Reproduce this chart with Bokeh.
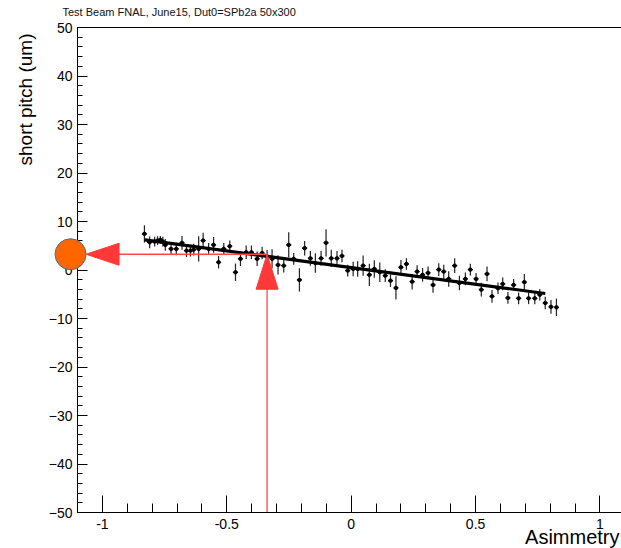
import numpy as np
from bokeh.plotting import figure
from bokeh.models import Range1d, FixedTicker, ColumnDataSource, LinearAxis
from bokeh.core.properties import value
from bokeh.embed import file_html
from bokeh.resources import INLINE

# ---------------- data ----------------
asym = [-0.831, -0.81, -0.79, -0.778, -0.767, -0.757, -0.747, -0.724, -0.703, -0.68,
        -0.662, -0.646, -0.633, -0.613, -0.595, -0.573, -0.553, -0.533, -0.512, -0.488,
        -0.465, -0.445, -0.422, -0.401, -0.378, -0.358, -0.338, -0.318, -0.294, -0.271,
        -0.251, -0.231, -0.208, -0.187, -0.164, -0.144, -0.121, -0.101, -0.08, -0.057,
        -0.037, -0.014, 0.008, 0.026, 0.048, 0.073, 0.093, 0.115, 0.137, 0.158,
        0.18, 0.2, 0.222, 0.245, 0.265, 0.287, 0.309, 0.329, 0.352, 0.372,
        0.392, 0.416, 0.435, 0.459, 0.479, 0.502, 0.523, 0.546, 0.566, 0.59,
        0.609, 0.63, 0.653, 0.673, 0.696, 0.713, 0.738, 0.758, 0.78, 0.803, 0.825]
pitch = [7.45, 5.7, 5.86, 6.07, 6.2, 5.86, 5.18, 4.35, 4.35, 5.59,
         4.0, 4.0, 4.2, 4.35, 6.07, 4.35, 5.18, 1.6, 4.35, 4.9,
         -0.47, 2.3, 3.65, 3.65, 2.3, 3.5, 2.8, 2.3, 1.05, 0.9,
         5.18, 2.3, -2.05, 4.5, 2.4, 1.45, 2.4, 5.6, 2.4, 2.4,
         2.9, -0.12, 0.22, 0.22, 0.9, -1.0, 0.22, -0.47, -1.16, -2.2,
         -3.7, 0.56, 1.25, -2.4, -0.33, -1.0, -0.6, -3.08, 0.08, -0.33,
         -1.84, 0.9, -2.67, -1.84, 0.08, -1.84, -4.05, -0.8, -5.43, -3.77,
         -2.87, -5.76, -3.08, -5.84, -2.5, -5.84, -5.84, -5.1, -6.8, -7.6, -7.7]
pitch_err = [1.8, 1.2, 1.0, 0.9, 0.8, 1.0, 1.2, 1.2, 1.3, 1.4,
             1.3, 1.2, 1.2, 2.6, 1.6, 1.2, 1.6, 1.3, 1.2, 1.2,
             1.8, 1.5, 1.4, 1.4, 1.5, 1.3, 1.3, 2.0, 2.0, 1.4,
             2.6, 1.2, 2.4, 1.5, 1.5, 2.0, 1.5, 2.8, 1.8, 1.5,
             1.3, 1.2, 1.5, 1.6, 2.1, 2.3, 1.8, 2.0, 1.3, 1.3,
             2.4, 1.5, 1.2, 1.6, 1.3, 1.4, 1.3, 1.6, 1.3, 1.4,
             1.6, 1.5, 1.5, 1.3, 1.2, 1.2, 1.4, 1.5, 1.3, 1.2,
             1.3, 1.2, 1.2, 1.2, 1.7, 1.2, 1.2, 1.2, 1.3, 1.4, 1.8]
bin_half = 0.0103

fit_x = [-0.83, 0.78]
fit_y = [6.2, -4.84]

proj_asym = -0.338     # asymmetry value marked by vertical arrow
proj_pitch = 3.25      # projected short pitch value
axis_asym = -1.128     # position of the result marker on the y axis

x_ticks = [-1, -0.5, 0, 0.5, 1]
x_tick_labels = ["-1", "-0.5", "0", "0.5", "1"]
x_minor = [round(-1.1 + 0.1 * i, 2) for i in range(23)]
y_ticks = [-50, -40, -30, -20, -10, 0, 10, 20, 30, 40, 50]
y_minor = list(range(-50, 51, 2))

title_text = "Test Beam FNAL, June15, Dut0=SPb2a 50x300"
x_title = "Asimmetry"
y_title = "short pitch (um)"

FONT = "Liberation Sans"

# ---------------- geometry (frame = whole canvas, axes at fixed locations) ----
W, H = 621, 548
ax_x0, ax_x1 = -1.1, 1.1       # axis extents
ax_y0, ax_y1 = -50, 50
left_px, top_px, bottom_px = 77, 27, 512
px_per_x = 248.8
px_per_y = (bottom_px - top_px) / (ax_y1 - ax_y0)
xr0 = ax_x0 - left_px / px_per_x
xr1 = xr0 + W / px_per_x
yr1 = ax_y1 + top_px / px_per_y
yr0 = ax_y0 - (H - bottom_px) / px_per_y

p = figure(width=W, height=H, x_range=Range1d(xr0, xr1), y_range=Range1d(yr0, yr1),
           output_backend="svg", toolbar_location=None,
           min_border_left=0, min_border_right=0, min_border_top=0,
           min_border_bottom=0)
p.outline_line_color = None
p.xgrid.visible = False
p.ygrid.visible = False
p.background_fill_color = "white"
p.border_fill_color = "white"

# axes
xa = p.xaxis[0]
xa.fixed_location = ax_y0
xa.bounds = (ax_x0, ax_x1)
xa.ticker = FixedTicker(ticks=x_ticks, minor_ticks=x_minor)
xa.major_label_overrides = {t: s for t, s in zip(x_ticks, x_tick_labels)}
xa.major_tick_in = 17
xa.major_tick_out = 0
xa.minor_tick_in = 9
xa.minor_tick_out = 0
xa.major_label_standoff = 6

ya = p.yaxis[0]
ya.fixed_location = ax_x0
ya.bounds = (ax_y0, ax_y1)
ya.ticker = FixedTicker(ticks=y_ticks, minor_ticks=y_minor)
ya.major_tick_in = 10
ya.major_tick_out = 0
ya.minor_tick_in = 5
ya.minor_tick_out = 0
ya.major_label_standoff = 5

for ax in (xa, ya):
    ax.axis_line_color = "black"
    ax.major_tick_line_color = "black"
    ax.minor_tick_line_color = "black"
    ax.major_label_text_font = FONT
    ax.major_label_text_font_size = "14px"
    ax.major_label_text_color = "black"

# top frame border
top_axis = LinearAxis(fixed_location=ax_y1, bounds=(ax_x0, ax_x1),
                      ticker=FixedTicker(ticks=[], minor_ticks=[]),
                      major_tick_in=0, major_tick_out=0, minor_tick_in=0,
                      minor_tick_out=0, axis_line_color="black",
                      major_label_text_font_size="0px")
p.add_layout(top_axis, "above")

# ---------------- data marks ----------------
a = np.array(asym)
v = np.array(pitch)
e = np.array(pitch_err)
src = ColumnDataSource(dict(x=a, y=v, ylo=v - e, yhi=v + e,
                            xlo=a - bin_half, xhi=a + bin_half))
p.segment(x0="x", y0="ylo", x1="x", y1="yhi", source=src, line_color="#222222",
          line_width=1.2)
p.segment(x0="xlo", y0="y", x1="xhi", y1="y", source=src, line_color="black",
          line_width=1.2)
p.scatter("x", "y", source=src, size=3.5, color="black")

p.line(fit_x, fit_y, line_color="black", line_width=3.2)

# ---------------- projection annotations ----------------
red = "#ff3838"
head_len_x = 33 / px_per_x
head_half_y = 11 / px_per_y
head_len_y = 35 / px_per_y
head_half_x = 11 / px_per_x
circ_d = 31
h_tip = axis_asym + (circ_d / 2) / px_per_x

p.line([h_tip + head_len_x, proj_asym], [proj_pitch, proj_pitch],
       line_color="#ff4a4a", line_width=1.3)
p.patch([h_tip, h_tip + head_len_x, h_tip + head_len_x],
        [proj_pitch, proj_pitch + head_half_y, proj_pitch - head_half_y],
        fill_color=red, line_color=red)
p.line([proj_asym, proj_asym], [ax_y0, proj_pitch - head_len_y],
       line_color="#ff4a4a", line_width=1.3)
p.patch([proj_asym, proj_asym - head_half_x, proj_asym + head_half_x],
        [proj_pitch, proj_pitch - head_len_y, proj_pitch - head_len_y],
        fill_color=red, line_color=red)

p.scatter([axis_asym], [proj_pitch], size=circ_d, marker="circle",
          fill_color="#ff6600", line_color="#41719c", line_width=1,
          level="overlay")

# ---------------- texts ----------------
def dx(px):
    return px / px_per_x


def dy(px):
    return px / px_per_y


p.text(x=[ax_x0 - dx(15)], y=[ax_y1 + dy(16)], text=[title_text],
       text_font=value(FONT), text_font_size=value("11px"), text_color="#111111",
       text_baseline="middle", text_align="left")
p.text(x=[xr1 - dx(2)], y=[ax_y0 - dy(24)], text=[x_title],
       text_font=value(FONT), text_font_size=value("20px"), text_color="black",
       text_baseline="middle", text_align="right")
p.text(x=[ax_x0 - dx(52)], y=[ax_y1 - dy(6)], text=[y_title], angle=np.pi / 2,
       text_font=value(FONT), text_font_size=value("19px"), text_color="black",
       text_baseline="middle", text_align="right")

open("out.html", "w").write(file_html(p, INLINE))
